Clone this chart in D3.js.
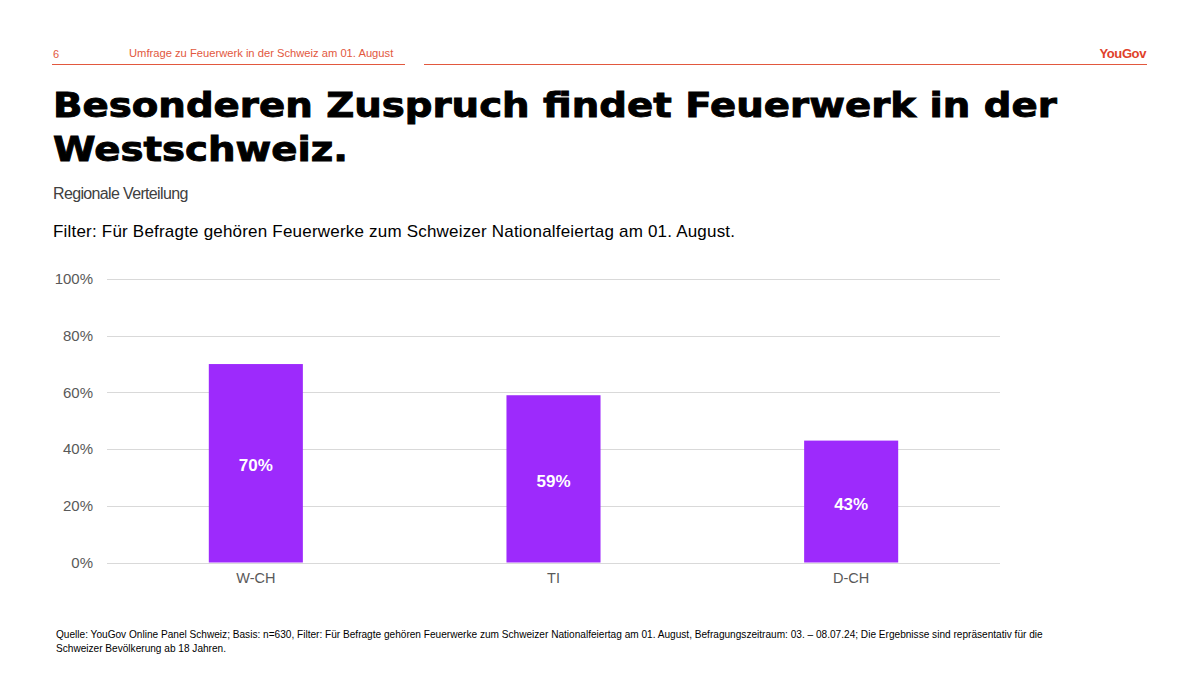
<!DOCTYPE html>
<html><head><meta charset="utf-8">
<script src="https://cdn.jsdelivr.net/npm/d3@7"></script>
<style>body{margin:0;background:#fff;}svg{display:block;font-family:"Liberation Sans",Arial,sans-serif;}</style>
</head><body><svg id="c" width="1200" height="675"></svg>
<script>
const categories = ["W-CH", "TI", "D-CH"];
const values = [70, 59, 43];
const yTicks = [0, 20, 40, 60, 80, 100];

const svg = d3.select("#c");
const red = "#e2583e";

// header
svg.append("text").attr("x", 53).attr("y", 58).attr("font-size", 11).attr("fill", red).text("6");
svg.append("text").attr("x", 129).attr("y", 57).attr("font-size", 11.2).attr("fill", red).text("Umfrage zu Feuerwerk in der Schweiz am 01. August");
svg.append("line").attr("x1", 52).attr("x2", 405).attr("y1", 64.5).attr("y2", 64.5).attr("stroke", red).attr("stroke-width", 1.2);
svg.append("line").attr("x1", 424).attr("x2", 1147).attr("y1", 64.5).attr("y2", 64.5).attr("stroke", red).attr("stroke-width", 1.2);
svg.append("text").attr("x", 1146).attr("y", 58).attr("text-anchor", "end").attr("font-size", 13).attr("font-weight", "bold").attr("fill", "#e0412a").attr("letter-spacing", -0.4).text("YouGov");

// title
const tg = svg.append("g").attr("transform", "translate(53,0) scale(1.173,1)");
const title = tg.append("text").attr("font-size", 33).attr("font-weight", 900).attr("fill", "#000")
  .attr("stroke", "#000").attr("stroke-width", 0.9)
  .attr("font-family", "'DejaVu Sans', 'Liberation Sans', sans-serif");
title.append("tspan").attr("x", 0).attr("y", 117).text("Besonderen Zuspruch findet Feuerwerk in der");
title.append("tspan").attr("x", 0).attr("y", 161).text("Westschweiz.");

svg.append("text").attr("x", 53).attr("y", 199).attr("font-size", 16).attr("letter-spacing", -0.65).attr("fill", "#404040").text("Regionale Verteilung");
svg.append("text").attr("x", 53).attr("y", 237).attr("font-size", 17).attr("letter-spacing", 0.2).attr("fill", "#000").text("Filter: Für Befragte gehören Feuerwerke zum Schweizer Nationalfeiertag am 01. August.");

// chart
const x = d3.scaleBand().domain(categories).range([107, 1000]).paddingInner(0.684).paddingOuter(0.342);
const y = d3.scaleLinear().domain([0, 100]).range([562.5, 279]);

const grid = svg.append("g");
grid.selectAll("line").data(yTicks).join("line")
  .attr("x1", 107).attr("x2", 1000)
  .attr("y1", d => Math.round(y(d)) + 0.5).attr("y2", d => Math.round(y(d)) + 0.5)
  .attr("stroke", "#d9d9d9").attr("stroke-width", 1);

const yAxis = d3.axisLeft(y).tickValues(yTicks).tickFormat(d => d + "%").tickSize(0).tickPadding(0);
const ya = svg.append("g").attr("transform", "translate(93,0)").call(yAxis);
ya.select(".domain").remove();
ya.selectAll("text").attr("font-size", 15).attr("fill", "#595959").attr("font-family", "'Liberation Sans', Arial, sans-serif");

svg.append("g").selectAll("rect").data(values).join("rect")
  .attr("x", (d, i) => x(categories[i])).attr("width", x.bandwidth())
  .attr("y", d => y(d)).attr("height", d => y(0) - y(d)).attr("fill", "#9d2afc");

svg.append("g").selectAll("text").data(values).join("text")
  .attr("x", (d, i) => x(categories[i]) + x.bandwidth() / 2)
  .attr("y", d => (y(d) + y(0)) / 2 + 8)
  .attr("text-anchor", "middle").attr("font-size", 17).attr("font-weight", "bold").attr("fill", "#fff")
  .text(d => d + "%");

const xAxis = d3.axisBottom(x).tickSize(0).tickPadding(0);
const xa = svg.append("g").attr("transform", "translate(0,573)").call(xAxis);
xa.select(".domain").remove();
xa.selectAll("text").attr("font-size", 14.5).attr("fill", "#595959").attr("dy", "0.71em").attr("font-family", "'Liberation Sans', Arial, sans-serif");

// footer
const foot = svg.append("text").attr("font-size", 10.1).attr("fill", "#000");
foot.append("tspan").attr("x", 56).attr("y", 638).text("Quelle: YouGov Online Panel Schweiz; Basis: n=630, Filter: Für Befragte gehören Feuerwerke zum Schweizer Nationalfeiertag am 01. August, Befragungszeitraum: 03. – 08.07.24; Die Ergebnisse sind repräsentativ für die");
foot.append("tspan").attr("x", 56).attr("y", 652).text("Schweizer Bevölkerung ab 18 Jahren.");
</script></body></html>
